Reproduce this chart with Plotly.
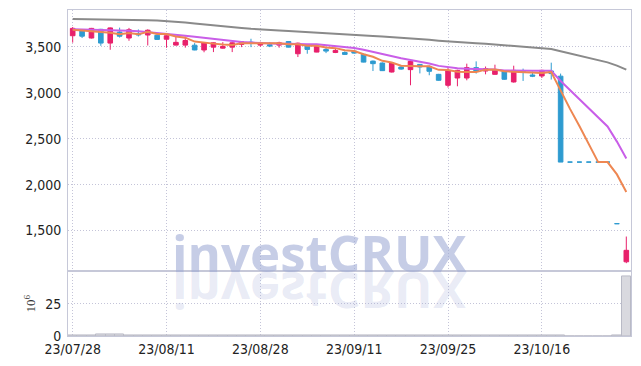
import plotly.graph_objects as go
from plotly.subplots import make_subplots

dates = [
    "2023-07-28", "2023-07-31", "2023-08-01", "2023-08-02", "2023-08-03", "2023-08-04",
    "2023-08-07", "2023-08-08", "2023-08-09", "2023-08-10", "2023-08-11", "2023-08-14",
    "2023-08-16", "2023-08-17", "2023-08-18", "2023-08-21", "2023-08-22", "2023-08-23",
    "2023-08-24", "2023-08-25", "2023-08-28", "2023-08-29", "2023-08-30", "2023-08-31",
    "2023-09-01", "2023-09-04", "2023-09-05", "2023-09-06", "2023-09-07", "2023-09-08",
    "2023-09-11", "2023-09-12", "2023-09-13", "2023-09-14", "2023-09-15", "2023-09-18",
    "2023-09-19", "2023-09-20", "2023-09-21", "2023-09-22", "2023-09-25", "2023-09-26",
    "2023-09-27", "2023-10-04", "2023-10-05", "2023-10-06", "2023-10-10", "2023-10-11",
    "2023-10-12", "2023-10-13", "2023-10-16", "2023-10-17", "2023-10-18", "2023-10-19",
    "2023-10-20", "2023-10-23", "2023-10-24", "2023-10-25", "2023-10-26", "2023-10-27",
]

open_ = [3620, 3685, 3595, 3690, 3540, 3660, 3595, 3645, 3628, 3625,
         3582, 3518, 3518, 3517, 3465, 3496, 3485, 3496, 3525, 3550,
         3518, 3522, 3518, 3557, 3424, 3514, 3442, 3471, 3438, 3438,
         3452, 3417, 3344, 3323, 3225, 3279, 3251, 3308, 3287, 3200,
         3081, 3160, 3160, 3273, 3236, 3200, 3233, 3117, 3240, 3193,
         3182, 3236, 3180, 2245, 2245, 2245, 2245, 2245, 1575, 1160]
high = [3715, 3690, 3705, 3695, 3710, 3708, 3705, 3688, 3690, 3640,
        3625, 3610, 3610, 3540, 3550, 3548, 3550, 3548, 3560, 3587,
        3555, 3552, 3555, 3560, 3545, 3525, 3510, 3496, 3485, 3450,
        3460, 3425, 3350, 3330, 3330, 3300, 3345, 3312, 3295, 3205,
        3280, 3250, 3316, 3341, 3285, 3305, 3240, 3294, 3262, 3230,
        3250, 3327, 3208, 2245, 2245, 2245, 2245, 2245, 1575, 1435]
low = [3545, 3595, 3590, 3510, 3467, 3600, 3565, 3612, 3514, 3575,
       3489, 3515, 3490, 3462, 3440, 3442, 3480, 3442, 3496, 3496,
       3500, 3496, 3490, 3494, 3388, 3424, 3440, 3431, 3431, 3410,
       3425, 3330, 3236, 3236, 3220, 3250, 3081, 3210, 3190, 3130,
       3056, 3070, 3135, 3208, 3200, 3195, 3140, 3110, 3128, 3170,
       3160, 3143, 2245, 2245, 2245, 2245, 2245, 2245, 1575, 1145]
close = [3700, 3615, 3700, 3540, 3705, 3615, 3685, 3628, 3680, 3580,
         3620, 3548, 3568, 3465, 3546, 3543, 3503, 3543, 3554, 3540,
         3546, 3508, 3543, 3496, 3539, 3471, 3503, 3453, 3460, 3417,
         3431, 3333, 3316, 3240, 3323, 3257, 3341, 3280, 3233, 3135,
         3243, 3243, 3273, 3233, 3262, 3251, 3146, 3243, 3230, 3180,
         3243, 3208, 2245, 2245, 2245, 2245, 2245, 2245, 1575, 1285]

ma5 = [3684, 3676, 3668, 3660, 3652, 3635, 3649, 3635, 3663, 3638,
       3639, 3611, 3599, 3556, 3549, 3534, 3525, 3520, 3538, 3537,
       3537, 3538, 3538, 3527, 3526, 3511, 3510, 3492, 3485, 3461,
       3453, 3419, 3391, 3347, 3329, 3294, 3295, 3288, 3287, 3249,
       3246, 3227, 3225, 3225, 3251, 3252, 3233, 3227, 3226, 3215,
       3215, 3225, 3021, 2824, 2637, 2438, 2245, 2245, 2111, 1919]
ma10 = [3690, 3688, 3686, 3684, 3682, 3679, 3675, 3668, 3660, 3650,
        3641, 3632, 3620, 3610, 3598, 3588, 3572, 3563, 3552, 3546,
        3540, 3536, 3533, 3533, 3534, 3528, 3526, 3518, 3509, 3497,
        3486, 3468, 3444, 3418, 3396, 3374, 3357, 3340, 3318, 3292,
        3275, 3266, 3261, 3259, 3255, 3252, 3243, 3240, 3240, 3240,
        3240, 3238, 3127, 3027, 2926, 2823, 2733, 2633, 2468, 2285]
ma_long = [3803, 3802, 3801, 3800, 3799, 3797, 3795, 3792, 3789, 3785,
           3780, 3772, 3763, 3752, 3741, 3732, 3723, 3714, 3705, 3696,
           3687, 3682, 3677, 3671, 3666, 3661, 3655, 3650, 3644, 3637,
           3630, 3624, 3618, 3612, 3606, 3599, 3592, 3584, 3575, 3566,
           3557, 3551, 3545, 3538, 3532, 3524, 3517, 3509, 3502, 3495,
           3487, 3475, 3452, 3428, 3404, 3380, 3355, 3330, 3295, 3251]

volume_m = [0.6, 0.5, 0.5, 0.9, 1.3, 0.9, 0.8, 0.3, 0.6, 0.4,
            0.4, 0.3, 0.6, 0.3, 0.3, 0.3, 0.6, 0.3, 0.3, 0.3,
            0.3, 0.3, 0.3, 0.3, 0.7, 0.3, 0.3, 0.3, 0.3, 0.3,
            0.3, 0.4, 0.3, 0.3, 0.3, 0.3, 0.5, 0.3, 0.3, 0.3,
            0.6, 0.3, 0.3, 0.3, 0.3, 0.3, 0.3, 0.3, 0.3, 0.3,
            0.3, 0.4, 0.7, 0.0, 0.0, 0.0, 0.0, 0.0, 0.1, 45.8]

tick_dates = ["2023-07-28", "2023-08-11", "2023-08-28", "2023-09-11", "2023-09-25", "2023-10-16"]
tick_labels = ["23/07/28", "23/08/11", "23/08/28", "23/09/11", "23/09/25", "23/10/16"]
price_ticks = [1500, 2000, 2500, 3000, 3500]
volume_ticks = [0, 25]
watermark = "investCRUX"

UP = "#e8206b"
DOWN = "#2e9bd0"
GRID = "#c4c4d8"
GRIDDASH = "1px,2px"
AXIS = "#c6c8d8"
TICKFONT = dict(family="Liberation Sans Narrow, DejaVu Sans Condensed, sans-serif", size=14, color="#222222")

fig = make_subplots(rows=2, cols=1, shared_xaxes=True, vertical_spacing=0)

fig.add_trace(go.Candlestick(
    x=dates, open=open_, high=high, low=low, close=close,
    increasing=dict(line=dict(color=UP, width=1), fillcolor=UP),
    decreasing=dict(line=dict(color=DOWN, width=1), fillcolor=DOWN),
    whiskerwidth=0, showlegend=False, hoverinfo="skip",
), row=1, col=1)

fig.add_trace(go.Scatter(x=dates, y=ma_long, mode="lines",
                         line=dict(color="#8a8a8a", width=2), showlegend=False, hoverinfo="skip"), row=1, col=1)
fig.add_trace(go.Scatter(x=dates, y=ma10, mode="lines",
                         line=dict(color="#c95ee8", width=2), showlegend=False, hoverinfo="skip"), row=1, col=1)
fig.add_trace(go.Scatter(x=dates, y=ma5, mode="lines",
                         line=dict(color="#ee8752", width=2), showlegend=False, hoverinfo="skip"), row=1, col=1)

fig.add_trace(go.Bar(x=dates, y=volume_m, marker=dict(color="#d9d9df", line=dict(color="#b9bac6", width=1)),
                     showlegend=False, hoverinfo="skip"), row=2, col=1)

common_x = dict(type="category", range=[-0.5, 59.5], tickvals=tick_dates, ticktext=tick_labels,
                showgrid=True, gridcolor=GRID, griddash=GRIDDASH, gridwidth=1,
                showline=True, linecolor=AXIS, linewidth=1, mirror=True,
                rangeslider=dict(visible=False), tickfont=TICKFONT, ticks="")
fig.update_xaxes(**common_x)
fig.update_xaxes(showticklabels=False, row=1, col=1)

fig.update_layout(
    width=641, height=366,
    margin=dict(l=68, r=9, t=9, b=29),
    paper_bgcolor="white", plot_bgcolor="white",
    hovermode=False, bargap=0.0,
    yaxis=dict(domain=[0.198, 1], range=[1055, 3900], tickvals=price_ticks, tickformat=",",
               showgrid=True, gridcolor=GRID, griddash=GRIDDASH, zeroline=False,
               showline=True, linecolor=AXIS, mirror=True,
               ticks="outside", ticklen=3, tickcolor="rgba(0,0,0,0)", tickfont=TICKFONT),
    yaxis2=dict(domain=[0, 0.198], range=[0, 50], tickvals=volume_ticks,
                showgrid=True, gridcolor=GRID, griddash=GRIDDASH, zeroline=False,
                showline=True, linecolor=AXIS, mirror=True,
                ticks="outside", ticklen=3, tickcolor="rgba(0,0,0,0)", tickfont=TICKFONT,
                title=dict(text="10<sup>6</sup>", font=dict(family="Liberation Serif, serif", size=13, color="#333"),
                           standoff=6)),
    xaxis2=dict(tickfont=TICKFONT),
)

wm_font = dict(family="Open Sans, sans-serif", size=51, weight="bold")
fig.add_annotation(text=watermark, xref="paper", yref="paper", x=0.447, y=0.257,
                   xanchor="center", yanchor="middle", showarrow=False,
                   font=dict(color="rgba(160,172,214,0.6)", **wm_font))
fig.add_annotation(text=watermark, xref="paper", yref="paper", x=0.447, y=0.257,
                   xanchor="center", yanchor="middle", showarrow=False,
                   font=dict(color="rgba(160,172,214,0.24)", **wm_font))

post = """
(function(){
  var gd = document.getElementById('{plot_id}');
  function flip(){
    var anns = gd.querySelectorAll('g.annotation');
    if (anns.length < 2) return;
    var a = anns[anns.length - 1];
    var t = a.querySelector('text.annotation-text');
    if (!t || t.getAttribute('data-flipped')) return;
    var y = parseFloat(t.getAttribute('y')) || 0;
    var prev = t.getAttribute('transform') || '';
    t.setAttribute('transform', 'translate(0,' + (2*y) + ') scale(1,-1) ' + prev);
    t.setAttribute('data-flipped', '1');
  }
  flip();
  setTimeout(flip, 50); setTimeout(flip, 300);
  if (gd.on) gd.on('plotly_afterplot', flip);
})();
"""

fig.write_html("out.html", post_script=post)
